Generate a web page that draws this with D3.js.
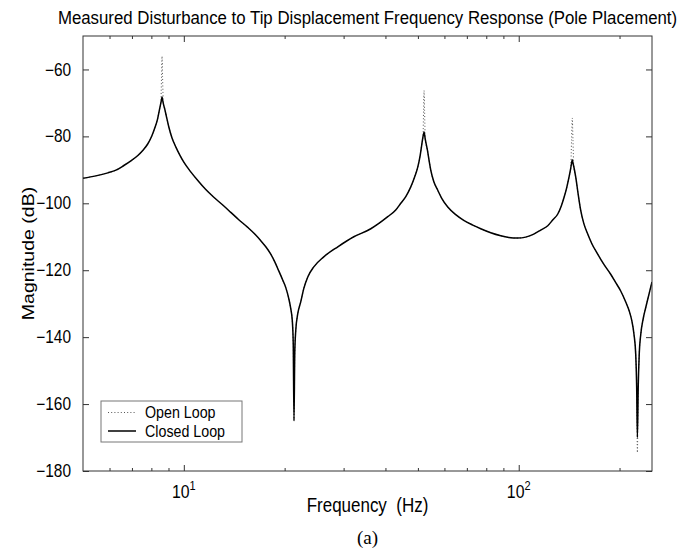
<!DOCTYPE html>
<html>
<head>
<meta charset="utf-8">
<script src="https://cdn.jsdelivr.net/npm/d3@7"></script>
<style>
  html, body { margin: 0; padding: 0; background: #fff; }
  svg { display: block; }
  text { font-family: "Liberation Sans", Arial, Helvetica, sans-serif; fill: #000; }
</style>
</head>
<body>
<svg id="chart" width="700" height="551"></svg>
<script>
// Frequency grid (Hz) shared by both responses
const freqHz = [
  5.0, 5.46, 5.93, 6.27, 6.62, 6.95, 7.29, 7.54, 7.81, 8.03,
  8.19, 8.34, 8.45, 8.54, 8.58, 8.61, 8.64, 8.69, 8.78, 8.87,
  9.02, 9.21, 9.47, 9.73, 10.0, 10.49, 11.01, 11.63, 12.29, 13.07,
  13.81, 14.59, 15.52, 16.29, 16.98, 17.57, 18.18, 18.69, 19.21, 19.75,
  20.16, 20.58, 20.86, 21.08, 21.22, 21.33, 21.44, 21.59, 21.89, 22.35,
  22.81, 23.45, 24.44, 26.17, 28.83, 32.18, 36.17, 40.64, 42.93, 44.44,
  46.0, 47.61, 48.94, 49.95, 50.82, 51.34, 51.8, 51.98, 52.16, 52.34,
  52.59, 53.4, 54.05, 54.62, 55.76, 57.31, 58.9, 61.39, 64.85, 68.52,
  72.9, 77.02, 82.5, 88.38, 93.35, 99.31, 104.9, 110.9, 116.3, 122.1,
  126.3, 130.8, 134.0, 136.6, 139.1, 141.3, 143.0, 143.8, 144.5, 145.2,
  146.0, 148.0, 150.6, 153.2, 156.4, 160.7, 165.2, 172.1, 179.4, 188.2,
  194.8, 201.6, 208.7, 213.8, 217.5, 220.9, 223.5, 225.0, 226.1, 227.4,
  229.0, 231.4, 235.3, 239.4, 244.4, 250.0
];

// Closed-loop magnitude (dB)
const closedLoopDb = [
  -92.5, -91.8, -90.9, -90.1, -88.7, -87.3, -85.7, -84.2, -82.2, -79.8,
  -77.5, -75.0, -72.2, -70.0, -69.0, -68.2, -69.0, -70.3, -72.0, -74.0,
  -77.2, -80.3, -83.2, -85.6, -87.7, -90.6, -93.2, -95.9, -98.2, -100.5,
  -102.7, -104.9, -107.2, -109.2, -111.2, -113.0, -115.2, -117.5, -120.2, -123.0,
  -125.2, -128.5, -131.5, -135.0, -142.0, -165.0, -145.0, -138.0, -133.0, -129.4,
  -125.5, -122.0, -119.0, -116.0, -113.0, -110.0, -107.6, -104.0, -102.0, -100.0,
  -98.0, -95.1, -92.0, -89.2, -85.5, -82.5, -80.0, -79.3, -78.7, -79.5,
  -80.8, -84.2, -87.5, -90.1, -93.5, -96.1, -98.5, -101.1, -103.4, -105.1,
  -106.5, -107.6, -108.8, -109.7, -110.2, -110.4, -110.1, -109.2, -108.0, -106.7,
  -105.0, -103.2, -100.8, -98.2, -95.3, -92.2, -89.5, -88.0, -87.0, -88.0,
  -89.0, -92.2, -97.5, -102.2, -106.0, -109.2, -112.0, -115.2, -118.2, -121.2,
  -123.7, -126.2, -129.5, -132.2, -135.0, -139.2, -145.0, -155.0, -170.0, -155.0,
  -145.0, -139.2, -134.5, -131.2, -127.5, -123.5
];

// Open-loop magnitude (dB)
const openLoopDb = [
  -92.5, -91.8, -90.9, -90.1, -88.7, -87.3, -85.7, -84.2, -82.2, -79.8,
  -77.5, -75.0, -72.2, -70.0, -62.0, -56.0, -62.0, -70.3, -72.0, -74.0,
  -77.2, -80.3, -83.2, -85.6, -87.7, -90.6, -93.2, -95.9, -98.2, -100.5,
  -102.7, -104.9, -107.2, -109.2, -111.2, -113.0, -115.2, -117.5, -120.2, -123.0,
  -125.2, -128.5, -131.5, -135.0, -142.0, -165.0, -145.0, -138.0, -133.0, -129.4,
  -125.5, -122.0, -119.0, -116.0, -113.0, -110.0, -107.6, -104.0, -102.0, -100.0,
  -98.0, -95.1, -92.0, -89.2, -85.5, -82.5, -80.0, -72.0, -66.3, -72.0,
  -80.8, -84.2, -87.5, -90.1, -93.5, -96.1, -98.5, -101.1, -103.4, -105.1,
  -106.5, -107.6, -108.8, -109.7, -110.2, -110.4, -110.1, -109.2, -108.0, -106.7,
  -105.0, -103.2, -100.8, -98.2, -95.3, -92.2, -89.5, -81.0, -74.5, -81.0,
  -89.0, -92.2, -97.5, -102.2, -106.0, -109.2, -112.0, -115.2, -118.2, -121.2,
  -123.7, -126.2, -129.5, -132.2, -135.0, -139.2, -145.0, -155.0, -174.5, -155.0,
  -145.0, -139.2, -134.5, -131.2, -127.5, -123.5
];

const yTickValues = [-180, -160, -140, -120, -100, -80, -60];
const xMajorTicks = [10, 100];
const xMajorExponents = ["1", "2"];
const xMinorTicks = [6, 7, 8, 9, 20, 30, 40, 50, 60, 70, 80, 90, 200];
const seriesNames = ["Open Loop", "Closed Loop"];

const titleText = "Measured Disturbance to Tip Displacement Frequency Response (Pole Placement)";
const xLabelText = "Frequency  (Hz)";
const yLabelText = "Magnitude (dB)";
const captionText = "(a)";

const svg = d3.select("#chart");
const plot = { left: 83, right: 652, top: 36, bottom: 471 };
const squeeze = 0.88;   // glyphs are set slightly condensed

const x = d3.scaleLog().domain([5, 250]).range([plot.left, plot.right]);
const y = d3.scaleLinear().domain([-180, -50]).range([plot.bottom, plot.top]);

const axisColor = "#333";

// Ticks pointing inward on all four sides
function styleAxis(g) {
  g.select(".domain").remove();
  g.selectAll(".tick line").attr("stroke", axisColor).attr("stroke-width", 1);
}

// Condensed text placed at (px, py)
function condensedText(parent, px, py, size, str, anchor) {
  return parent.append("text")
    .attr("transform", `translate(${px},${py}) scale(${squeeze},1)`)
    .attr("text-anchor", anchor || "middle")
    .attr("font-size", size)
    .text(str);
}

svg.append("g")
  .attr("transform", `translate(0,${plot.bottom})`)
  .call(d3.axisBottom(x).tickValues(xMajorTicks).tickSize(-6).tickFormat(""))
  .call(styleAxis);
svg.append("g")
  .attr("transform", `translate(0,${plot.bottom})`)
  .call(d3.axisBottom(x).tickValues(xMinorTicks).tickSize(-3).tickFormat(""))
  .call(styleAxis);
svg.append("g")
  .attr("transform", `translate(0,${plot.top})`)
  .call(d3.axisTop(x).tickValues(xMajorTicks).tickSize(-6).tickFormat(""))
  .call(styleAxis);
svg.append("g")
  .attr("transform", `translate(0,${plot.top})`)
  .call(d3.axisTop(x).tickValues(xMinorTicks).tickSize(-3).tickFormat(""))
  .call(styleAxis);

const tickPad = 12;
const leftAxis = svg.append("g")
  .attr("transform", `translate(${plot.left},0)`)
  .call(d3.axisLeft(y).tickValues(yTickValues).tickSize(-6).tickPadding(tickPad)
    .tickFormat(d => (d < 0 ? "\u2212" : "") + Math.abs(d)))
  .call(styleAxis);
leftAxis.selectAll(".tick text")
  .attr("font-size", 17.5)
  .attr("font-family", "Liberation Sans, Arial, sans-serif")
  .attr("fill", "#000")
  .attr("x", -tickPad / squeeze)
  .attr("transform", `scale(${squeeze},1)`);

svg.append("g")
  .attr("transform", `translate(${plot.right},0)`)
  .call(d3.axisRight(y).tickValues(yTickValues).tickSize(-6).tickFormat(""))
  .call(styleAxis);

// Decade labels with superscript exponents
xMajorTicks.forEach((v, i) => {
  const t = condensedText(svg, x(v), 498, 18, null);
  t.append("tspan").text("10");
  t.append("tspan").attr("dy", -8).attr("font-size", 12.5).text(xMajorExponents[i]);
});

// Response curves
svg.append("defs").append("clipPath").attr("id", "plot-clip")
  .append("rect")
  .attr("x", plot.left).attr("y", plot.top)
  .attr("width", plot.right - plot.left).attr("height", plot.bottom - plot.top);

const openData = freqHz.map((f, i) => [f, openLoopDb[i]]);
const closedData = freqHz.map((f, i) => [f, closedLoopDb[i]]);

const line = d3.line().x(d => x(d[0])).y(d => y(d[1])).curve(d3.curveMonotoneX);

const curves = svg.append("g").attr("clip-path", "url(#plot-clip)");
curves.append("path")
  .datum(openData)
  .attr("d", line)
  .attr("fill", "none")
  .attr("stroke", "#555")
  .attr("stroke-width", 1)
  .attr("stroke-dasharray", "1,2.2");
curves.append("path")
  .datum(closedData)
  .attr("d", line)
  .attr("fill", "none")
  .attr("stroke", "#000")
  .attr("stroke-width", 1.5)
  .attr("stroke-linejoin", "round");

// Plot frame
svg.append("rect")
  .attr("x", plot.left).attr("y", plot.top)
  .attr("width", plot.right - plot.left).attr("height", plot.bottom - plot.top)
  .attr("fill", "none")
  .attr("stroke", axisColor)
  .attr("stroke-width", 1);

// Legend
const legend = svg.append("g").attr("transform", "translate(101,401)");
legend.append("rect")
  .attr("width", 141).attr("height", 41)
  .attr("fill", "#fff")
  .attr("stroke", "#777")
  .attr("stroke-width", 1);
const legendStyles = [
  { stroke: "#555", width: 1, dash: "1,2.2" },
  { stroke: "#000", width: 1.5, dash: null }
];
seriesNames.forEach((name, i) => {
  const row = legend.append("g").attr("transform", `translate(0,${11.5 + i * 18.5})`);
  row.append("line")
    .attr("x1", 7).attr("x2", 35).attr("y1", 0).attr("y2", 0)
    .attr("stroke", legendStyles[i].stroke)
    .attr("stroke-width", legendStyles[i].width)
    .attr("stroke-dasharray", legendStyles[i].dash);
  condensedText(row, 44, 5.5, 16.2, name, "start");
});

// Titles
condensedText(svg, (plot.left + plot.right) / 2, 24, 19.1, titleText);
condensedText(svg, (plot.left + plot.right) / 2, 512, 19.3, xLabelText)
  .attr("xml:space", "preserve")
  .style("white-space", "pre");
svg.append("text")
  .attr("transform", `translate(34,${(plot.top + plot.bottom) / 2}) scale(${squeeze},1) rotate(-90)`)
  .attr("text-anchor", "middle").attr("font-size", 19.5)
  .text(yLabelText);
svg.append("text")
  .attr("x", (plot.left + plot.right) / 2).attr("y", 544)
  .attr("text-anchor", "middle").attr("font-size", 19)
  .style("font-family", "'Liberation Serif', 'Times New Roman', serif")
  .text(captionText);
</script>
</body>
</html>
